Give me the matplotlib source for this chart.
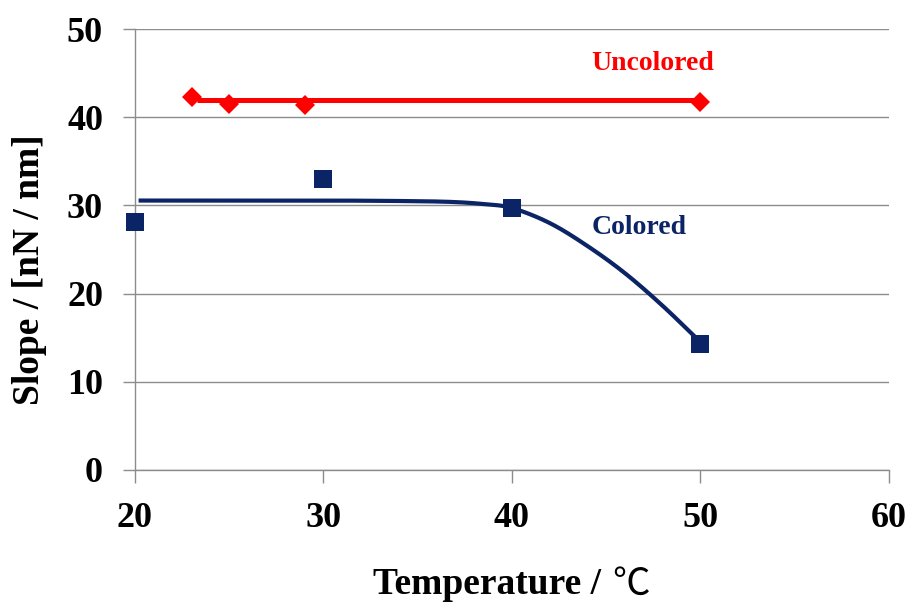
import numpy as np
import matplotlib
matplotlib.use("Agg")
import matplotlib.pyplot as plt

# Data
uncolored_x = [23, 25, 29, 50]
uncolored_y = [42.3, 41.5, 41.4, 41.7]
uncolored_fit_x = [23.3, 50]
uncolored_fit_y = [41.9, 41.9]

colored_x = [20, 30, 40, 50]
colored_y = [28.1, 33.0, 29.7, 14.3]
colored_fit_x = [20.3, 25, 30, 34, 36.7, 38.5, 40, 42, 44, 46, 48, 50]
colored_fit_y = [30.55, 30.55, 30.55, 30.5, 30.4, 30.15, 29.7, 28.0, 25.4, 22.3, 18.6, 14.5]

x_ticks = [20, 30, 40, 50, 60]
y_ticks = [0, 10, 20, 30, 40, 50]


def catmull_rom(xs, ys, n=30):
    xs = np.asarray(xs, float)
    ys = np.asarray(ys, float)
    P = np.column_stack([xs, ys])
    P = np.vstack([2 * P[0] - P[1], P, 2 * P[-1] - P[-2]])
    out = []
    for i in range(1, len(P) - 2):
        p0, p1, p2, p3 = P[i - 1], P[i], P[i + 1], P[i + 2]
        t = np.linspace(0, 1, n, endpoint=False)[:, None]
        seg = 0.5 * ((2 * p1) + (-p0 + p2) * t + (2 * p0 - 5 * p1 + 4 * p2 - p3) * t ** 2
                     + (-p0 + 3 * p1 - 3 * p2 + p3) * t ** 3)
        out.append(seg)
    out.append(P[-2][None, :])
    out = np.vstack(out)
    return out[:, 0], out[:, 1]


serif = ["Liberation Serif", "Noto Sans CJK JP", "DejaVu Serif"]
plt.rcParams["font.family"] = serif

RED = "#FF0000"
NAVY = "#0B2466"
GRID = "#8C8C8C"

fig = plt.figure(figsize=(9.12, 6.08), dpi=100)
ax = fig.add_axes([135 / 912, 1 - 470 / 608, (889 - 135) / 912, (470 - 29) / 608])

ax.set_xlim(20, 60)
ax.set_ylim(0, 50)
ax.set_xticks(x_ticks)
ax.set_yticks(y_ticks)

ax.yaxis.grid(True, color=GRID, linewidth=1.0)
ax.set_axisbelow(True)
for s in ["top", "right"]:
    ax.spines[s].set_visible(False)
for s in ["left", "bottom"]:
    ax.spines[s].set_color(GRID)
    ax.spines[s].set_linewidth(1.0)

ax.tick_params(axis="both", direction="out", length=9, width=1.0, color=GRID,
               labelsize=26)
for lab in ax.get_xticklabels() + ax.get_yticklabels():
    lab.set_fontweight("bold")
ax.tick_params(axis="x", pad=14)
ax.tick_params(axis="y", pad=14)

# Uncolored
ax.plot(uncolored_fit_x, uncolored_fit_y, color=RED, linewidth=3.6, solid_capstyle="butt", zorder=3)
ax.plot(uncolored_x, uncolored_y, linestyle="none", marker="D", markersize=10,
        color=RED, markeredgewidth=0, zorder=4)

# Colored
cx, cy = catmull_rom(colored_fit_x, colored_fit_y)
ax.plot(cx, cy, color=NAVY, linewidth=3.0, zorder=3)
ax.plot(colored_x, colored_y, linestyle="none", marker="s", markersize=12.5,
        color=NAVY, markeredgewidth=0, zorder=4, clip_on=False)

fig.text(653 / 912, 1 - 63 / 608, "Uncolored", color=RED, fontsize=20, fontweight="bold",
         ha="center", va="center")
fig.text(639 / 912, 1 - 227 / 608, "Colored", color=NAVY, fontsize=20, fontweight="bold",
         ha="center", va="center")

# x label: bold text + regular-weight degree Celsius sign
t1 = fig.text(373 / 912, 1 - 584 / 608, "Temperature / ", fontsize=27, fontweight="bold",
              ha="left", va="center", family=["Liberation Serif"])
fig.canvas.draw()
bb = t1.get_window_extent()
fig.text((bb.x1 + 2) / 912, 1 - 584 / 608, "\u2103", fontsize=27, fontweight="normal",
         ha="left", va="center", family=["Noto Sans CJK JP", "DejaVu Serif"])

fig.text(30 / 912, 1 - 270 / 608, "Slope / [nN / nm]", fontsize=27, fontweight="bold",
         ha="center", va="center", rotation=90)

fig.savefig("out.png", dpi=100)
